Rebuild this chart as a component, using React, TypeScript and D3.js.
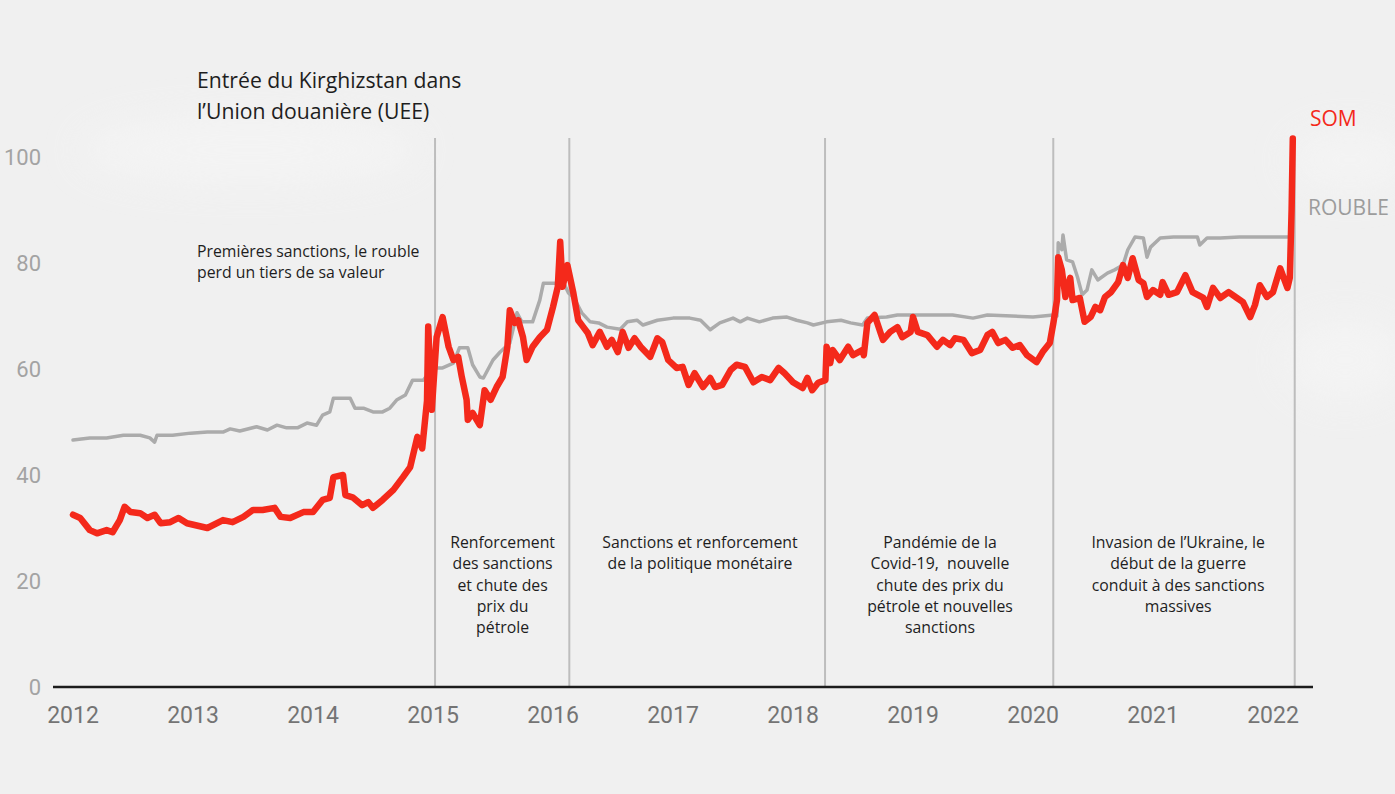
import React from "react";
import * as d3 from "d3";

// ---------- data ----------
const yTicks = [0, 20, 40, 60, 80, 100];
const xTicks = [2012, 2013, 2014, 2015, 2016, 2017, 2018, 2019, 2020, 2021, 2022];
const eventDates = [2015.017, 2016.136, 2018.267, 2020.169, 2022.181];

// red series (labelled SOM)
const somYears = [
  2012.0, 2012.06, 2012.14, 2012.2, 2012.28, 2012.33, 2012.39, 2012.43, 2012.48, 2012.56,
  2012.62, 2012.68, 2012.73, 2012.81, 2012.88, 2012.95, 2013.12, 2013.25, 2013.33, 2013.42,
  2013.5, 2013.58, 2013.68, 2013.73, 2013.81, 2013.92, 2014.0, 2014.08, 2014.14, 2014.17,
  2014.25, 2014.27, 2014.33, 2014.41, 2014.46, 2014.5, 2014.58, 2014.67, 2014.75, 2014.81,
  2014.87, 2014.91, 2014.95, 2014.96, 2014.99, 2015.03, 2015.08, 2015.13, 2015.17, 2015.21,
  2015.24, 2015.28, 2015.29, 2015.33, 2015.39, 2015.43, 2015.48, 2015.53, 2015.58, 2015.62,
  2015.64, 2015.68, 2015.71, 2015.75, 2015.78, 2015.83, 2015.89, 2015.95, 2016.0, 2016.04,
  2016.06, 2016.08, 2016.12, 2016.17, 2016.21, 2016.25, 2016.29, 2016.33, 2016.39, 2016.45,
  2016.49, 2016.54, 2016.58, 2016.63, 2016.68, 2016.73, 2016.81, 2016.87, 2016.91, 2016.96,
  2017.03, 2017.08, 2017.13, 2017.18, 2017.25, 2017.31, 2017.35, 2017.41, 2017.48, 2017.53,
  2017.6, 2017.67, 2017.74, 2017.81, 2017.88, 2017.93, 2018.0, 2018.08, 2018.12, 2018.16,
  2018.21, 2018.27, 2018.28, 2018.31, 2018.33, 2018.39, 2018.46, 2018.5, 2018.58, 2018.59,
  2018.62, 2018.68, 2018.73, 2018.75, 2018.81, 2018.87, 2018.91, 2018.98, 2019.0, 2019.04,
  2019.12, 2019.2, 2019.25, 2019.31, 2019.35, 2019.42, 2019.49, 2019.56, 2019.62, 2019.66,
  2019.71, 2019.77, 2019.83, 2019.89, 2019.95, 2020.03, 2020.08, 2020.14, 2020.17, 2020.2,
  2020.21, 2020.24, 2020.27, 2020.31, 2020.33, 2020.39, 2020.43, 2020.48, 2020.52, 2020.56,
  2020.6, 2020.65, 2020.71, 2020.75, 2020.79, 2020.83, 2020.88, 2020.92, 2020.95, 2021.0,
  2021.06, 2021.08, 2021.13, 2021.2, 2021.27, 2021.33, 2021.42, 2021.45, 2021.5, 2021.56,
  2021.63, 2021.7, 2021.75, 2021.81, 2021.85, 2021.89, 2021.95, 2022.0, 2022.06, 2022.12,
  2022.14, 2022.155, 2022.165,
];
const somValues = [
  32.5, 31.9, 29.6, 29.0, 29.6, 29.2, 31.5, 34.0, 33.0, 32.8,
  31.9, 32.5, 30.9, 31.1, 31.9, 30.9, 30.0, 31.5, 31.1, 32.1,
  33.4, 33.4, 33.8, 32.1, 31.9, 33.0, 33.0, 35.3, 35.7, 39.6,
  40.0, 36.2, 35.8, 34.3, 34.9, 33.8, 35.3, 37.2, 39.6, 41.5,
  47.2, 45.0, 54.0, 68.0, 52.3, 66.0, 69.8, 64.2, 61.7, 62.3,
  58.5, 54.2, 50.4, 51.7, 49.4, 56.0, 54.2, 56.6, 58.5, 64.2,
  71.1, 68.7, 69.2, 66.0, 61.7, 64.2, 66.0, 67.4, 71.7, 75.5,
  84.0, 75.5, 79.6, 74.3, 69.2, 68.0, 66.8, 64.5, 67.0, 64.2,
  65.5, 63.2, 67.0, 64.0, 65.8, 64.2, 62.3, 65.8, 65.1, 61.7,
  60.2, 60.4, 57.0, 59.2, 56.6, 58.3, 56.6, 57.0, 59.8, 60.8,
  60.4, 57.5, 58.5, 57.9, 60.2, 59.2, 57.5, 56.4, 58.3, 56.0,
  57.4, 57.9, 64.2, 61.1, 63.6, 61.7, 64.2, 62.6, 63.6, 62.6,
  68.7, 70.2, 66.8, 65.5, 67.0, 67.9, 66.0, 67.0, 69.8, 67.0,
  66.4, 64.2, 65.5, 64.5, 65.8, 65.5, 63.0, 63.6, 66.4, 67.0,
  64.9, 65.5, 64.0, 64.5, 62.6, 61.3, 63.2, 64.9, 68.7, 73.0,
  81.1, 78.7, 73.6, 77.2, 73.0, 73.4, 68.9, 69.8, 71.7, 71.1,
  73.6, 74.5, 76.4, 79.6, 77.2, 80.9, 76.8, 76.2, 73.6, 74.9,
  74.0, 76.4, 74.0, 74.5, 77.7, 74.5, 73.4, 71.7, 75.3, 73.4,
  74.5, 73.4, 72.6, 69.8, 72.1, 75.8, 73.6, 74.5, 79.0, 75.3,
  77.2, 90.0, 103.5,
];

// grey series (labelled ROUBLE)
const roubleYears = [
  2012.0, 2012.14, 2012.28, 2012.42, 2012.56, 2012.64, 2012.68, 2012.7, 2012.83, 2012.98,
  2013.12, 2013.25, 2013.31, 2013.39, 2013.53, 2013.62, 2013.7, 2013.78, 2013.87, 2013.95,
  2014.03, 2014.08, 2014.14, 2014.17, 2014.31, 2014.35, 2014.42, 2014.5, 2014.58, 2014.64,
  2014.7, 2014.77, 2014.83, 2014.92, 2015.0, 2015.08, 2015.17, 2015.22, 2015.29, 2015.33,
  2015.39, 2015.42, 2015.5, 2015.56, 2015.64, 2015.7, 2015.74, 2015.83, 2015.89, 2015.92,
  2016.04, 2016.09, 2016.13, 2016.17, 2016.24, 2016.31, 2016.38, 2016.45, 2016.56, 2016.62,
  2016.7, 2016.75, 2016.87, 2017.0, 2017.14, 2017.23, 2017.31, 2017.39, 2017.5, 2017.56,
  2017.62, 2017.72, 2017.83, 2017.95, 2018.03, 2018.12, 2018.17, 2018.28, 2018.4, 2018.48,
  2018.58, 2018.62, 2018.78, 2018.87, 2019.06, 2019.33, 2019.5, 2019.62, 2020.0, 2020.17,
  2020.2, 2020.21, 2020.24, 2020.25, 2020.28, 2020.33, 2020.37, 2020.41, 2020.45, 2020.49,
  2020.54, 2020.62, 2020.68, 2020.75, 2020.79, 2020.85, 2020.92, 2020.95, 2020.98, 2021.06,
  2021.17, 2021.37, 2021.39, 2021.45, 2021.56, 2021.72, 2022.14,
];
const roubleValues = [
  46.6, 47.0, 47.0, 47.5, 47.5, 47.0, 46.2, 47.5, 47.5, 47.9,
  48.1, 48.1, 48.7, 48.3, 49.1, 48.5, 49.4, 48.9, 48.9, 49.8,
  49.4, 51.3, 51.9, 54.5, 54.5, 52.6, 52.6, 51.9, 51.9, 52.6,
  54.2, 55.1, 57.9, 57.9, 60.2, 60.2, 61.1, 64.0, 64.0, 60.8,
  58.5, 58.3, 61.7, 63.2, 64.9, 70.6, 68.9, 68.9, 73.0, 76.2,
  76.2, 76.2, 74.3, 73.6, 70.6, 68.9, 68.7, 67.9, 67.5, 68.9,
  69.2, 68.3, 69.2, 69.6, 69.6, 69.2, 67.4, 68.7, 69.6, 68.9,
  69.6, 68.9, 69.6, 69.8, 69.2, 68.7, 68.3, 68.9, 69.2, 68.7,
  68.3, 69.6, 69.8, 70.2, 70.2, 70.2, 69.6, 70.2, 69.8, 70.2,
  70.0, 83.8, 82.5, 85.3, 80.6, 80.2, 77.4, 74.0, 74.9, 78.7,
  76.8, 78.1, 78.7, 79.6, 82.5, 84.9, 84.7, 81.1, 83.0, 84.7,
  84.9, 84.9, 83.4, 84.7, 84.7, 84.9, 84.9,
];

const titleLines = ["Entrée du Kirghizstan dans", "l\u2019Union douanière (UEE)"];
const firstNoteLines = ["Premières sanctions, le rouble", "perd un tiers de sa valeur"];
const periodNotes = [
  ["Renforcement", "des sanctions", "et chute des", "prix du", "pétrole"],
  ["Sanctions et renforcement", "de la politique monétaire"],
  ["Pandémie de la", "Covid-19,  nouvelle", "chute des prix du", "pétrole et nouvelles", "sanctions"],
  ["Invasion de l\u2019Ukraine, le", "début de la guerre", "conduit à des sanctions", "massives"],
];
const seriesLabels = ["SOM", "ROUBLE"];

// ---------- layout ----------
const W = 1395;
const H = 794;
const noteCenters = [2015.58, 2017.225, 2019.225, 2021.21];

export default function App() {
  const x = d3.scaleLinear().domain([2012, 2022]).range([73, 1273]);
  const y = d3.scaleLinear().domain([0, 100]).range([687, 157]);

  const line = d3
    .line<[number, number]>()
    .x((d) => x(d[0]))
    .y((d) => y(d[1]));

  const som: [number, number][] = somYears.map((t, i) => [t, somValues[i]]);
  const rouble: [number, number][] = roubleYears.map((t, i) => [t, roubleValues[i]]);

  const noteFont = "'Open Sans', 'Noto Sans', sans-serif";
  const tickFont = "Roboto, 'Noto Sans', sans-serif";

  return (
    <svg
      width={W}
      height={H}
      style={{ position: "absolute", left: 0, top: 0, display: "block" }}
    >
      <defs>
        <filter id="blur" x="-50%" y="-50%" width="200%" height="200%">
          <feGaussianBlur stdDeviation="18" />
        </filter>
      </defs>
      <rect x={0} y={0} width={W} height={H} fill="#f0f0f0" />
      <g filter="url(#blur)" opacity={0.55}>
        <ellipse cx={250} cy={150} rx={170} ry={35} fill="#f7f7f7" />
        <ellipse cx={1350} cy={160} rx={60} ry={30} fill="#f7f7f7" />
        <ellipse cx={1345} cy={360} rx={60} ry={40} fill="#f7f7f7" />
      </g>

      {/* event lines */}
      {eventDates.map((d, i) => (
        <line
          key={i}
          x1={x(d)}
          x2={x(d)}
          y1={138}
          y2={y(0)}
          stroke="#bdbdbd"
          strokeWidth={2}
        />
      ))}

      {/* axis line */}
      <line x1={53} x2={1313} y1={y(0)} y2={y(0)} stroke="#1c1c1c" strokeWidth={2.5} />

      {/* y tick labels */}
      {yTicks.map((t) => (
        <text
          key={t}
          x={41}
          y={y(t) + 8}
          textAnchor="end"
          fontFamily={tickFont}
          fontSize={22}
          fill="#a3a3a3"
        >
          {t}
        </text>
      ))}

      {/* x tick labels */}
      {xTicks.map((t) => (
        <text
          key={t}
          x={x(t)}
          y={723}
          textAnchor="middle"
          fontFamily={tickFont}
          fontSize={23}
          fill="#747474"
        >
          {t}
        </text>
      ))}

      {/* series */}
      <path
        d={line(rouble) || ""}
        fill="none"
        stroke="#ababab"
        strokeWidth={3.5}
        strokeLinejoin="round"
        strokeLinecap="round"
      />
      <path
        d={line(som) || ""}
        fill="none"
        stroke="#f4291b"
        strokeWidth={6.5}
        strokeLinejoin="round"
        strokeLinecap="round"
      />

      {/* title */}
      {titleLines.map((s, i) => (
        <text
          key={s}
          x={197}
          y={88 + i * 31}
          fontFamily={noteFont}
          fontSize={21.2}
          fill="#1e1e1e"
        >
          {s}
        </text>
      ))}

      {firstNoteLines.map((s, i) => (
        <text
          key={s}
          x={197}
          y={257 + i * 21}
          fontFamily={noteFont}
          fontSize={15.8}
          fill="#1e1e1e"
        >
          {s}
        </text>
      ))}

      {periodNotes.map((lines, k) =>
        lines.map((s, i) => (
          <text
            key={k + "-" + i}
            x={x(noteCenters[k])}
            y={548 + i * 21.3}
            textAnchor="middle"
            fontFamily={noteFont}
            fontSize={15.8}
            fill="#1e1e1e"
            style={{ whiteSpace: "pre" }}
          >
            {s}
          </text>
        ))
      )}

      {/* series labels */}
      <text x={1310} y={126} fontFamily={noteFont} fontSize={21} fill="#f4291b">
        {seriesLabels[0]}
      </text>
      <text x={1308} y={215} fontFamily={noteFont} fontSize={21} fill="#9c9c9c">
        {seriesLabels[1]}
      </text>
    </svg>
  );
}
